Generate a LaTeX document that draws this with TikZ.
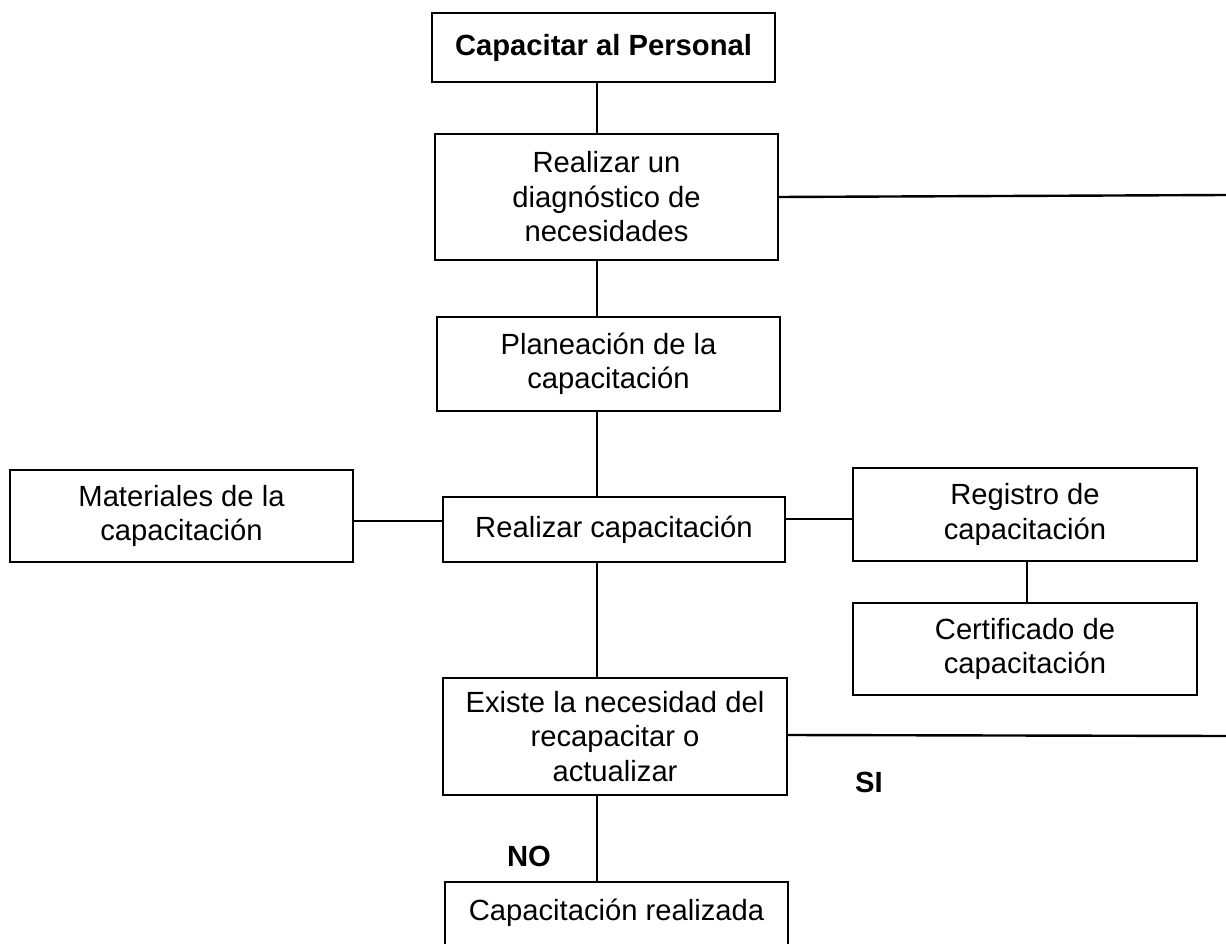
\documentclass[tikz,border=0pt]{standalone}
\usepackage{fontspec}
\setmainfont{Liberation Sans}
\begin{document}
\begin{tikzpicture}[x=1pt,y=-1pt,
  txt/.style={font=\fontsize{29.2}{34.5}\selectfont},
  box/.style={draw, line width=1.3pt, inner sep=0pt, align=center, txt},
  conn/.style={line width=2.4pt},
  lbl/.style={font=\fontsize{29.2}{34.5}\selectfont\bfseries, inner sep=0pt}]
\useasboundingbox (0,0) rectangle (1226,944);
\node[box, minimum width=343pt, minimum height=69pt] (top) at (603.5,47.5) {\raisebox{3pt}{\bfseries Capacitar al Personal}};
\node[box, minimum width=343pt, minimum height=126pt] (diag) at (606.5,197) {Realizar un\\diagnóstico de\\necesidades};
\node[box, minimum width=343pt, minimum height=94pt] (plan) at (608.5,364) {Planeación de la\\capacitación};
\node[box, minimum width=343pt, minimum height=92pt] (mat) at (181.5,516) {Materiales de la\\capacitación};
\node[box, minimum width=342pt, minimum height=65pt] (real) at (614,529.5) {Realizar capacitación};
\node[box, minimum width=344pt, minimum height=93pt] (reg) at (1025,514.5) {Registro de\\capacitación};
\node[box, minimum width=344pt, minimum height=92pt] (cert) at (1025,649) {Certificado de\\capacitación};
\node[box, minimum width=344pt, minimum height=117pt] (exis) at (615,736.5) {Existe la necesidad del\\recapacitar o\\actualizar};
\node[box, minimum width=343pt, minimum height=100pt] (done) at (616.5,932) {};
\node[txt, inner sep=0pt, anchor=base] (donet) at (616.5,920) {Capacitación realizada};
\coordinate (e1) at (1226,195);
\coordinate (e2) at (1226,736);
\node[lbl] (si) at (869,782) {SI};
\node[lbl] (no) at (529,856) {NO};
\draw[conn] (top.south -| 597,0) -- (diag.north -| 597,0);
\draw[conn] (diag.south -| 597,0) -- (plan.north -| 597,0);
\draw[conn] (plan.south -| 597,0) -- (real.north -| 597,0);
\draw[conn] (real.south -| 597,0) -- (exis.north -| 597,0);
\draw[conn] (exis.south -| 597,0) -- (done.north -| 597,0);
\draw[conn] (diag.east) -- (e1);
\draw[conn] (exis.east |- 0,735) -- (e2);
\draw[conn] (mat.east |- 0,521) -- (real.west |- 0,521);
\draw[conn] (real.east |- 0,519) -- (reg.west |- 0,519);
\draw[conn] (reg.south -| 1027,0) -- (cert.north -| 1027,0);
\end{tikzpicture}
\end{document}
